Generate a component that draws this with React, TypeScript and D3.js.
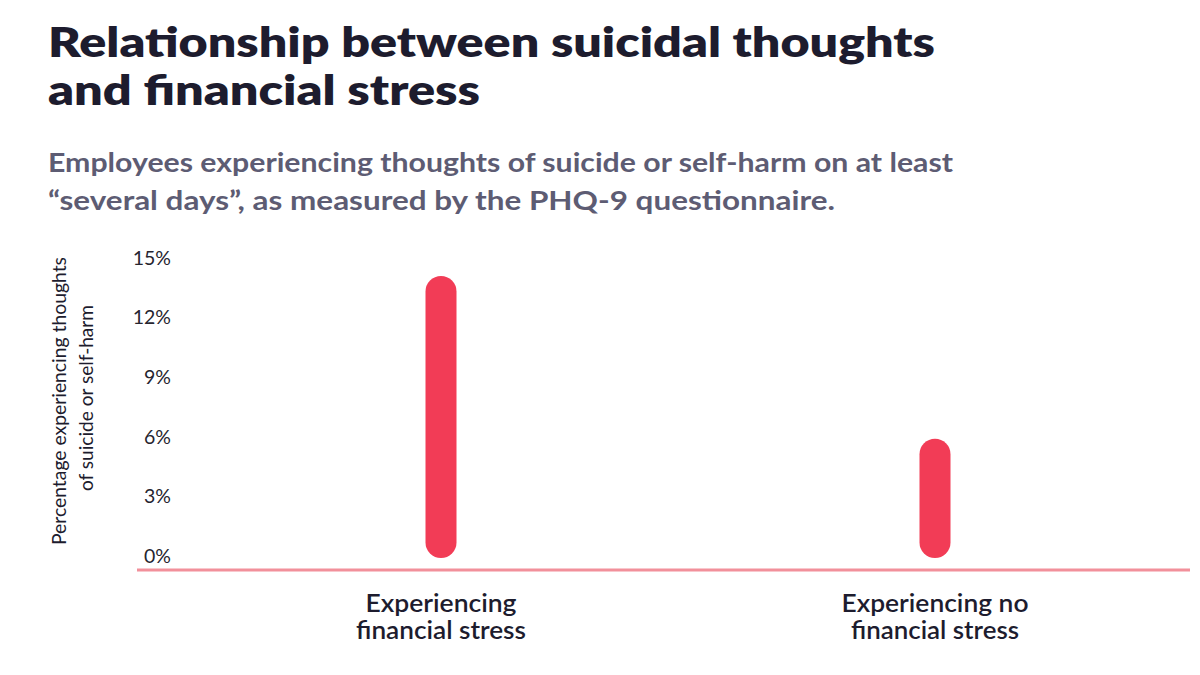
import React, { useEffect, useRef } from "react";
import * as d3 from "d3";

const categories = [["Experiencing", "financial stress"], ["Experiencing no", "financial stress"]];
const values = [14.1, 5.9];
const yTicks = [0, 3, 6, 9, 12, 15];
const titleLines = ["Relationship between suicidal thoughts", "and financial stress"];
const subtitleLines = [
  "Employees experiencing thoughts of suicide or self-harm on at least",
  "\u201Cseveral days\u201D, as measured by the PHQ-9 questionnaire.",
];
const yAxisTitle = ["Percentage experiencing thoughts", "of suicide or self-harm"];

const W = 1200;
const H = 675;
const FONT = "Lato, 'Open Sans', sans-serif";

export default function App() {
  const ref = useRef<SVGSVGElement | null>(null);

  useEffect(() => {
    document.body.style.margin = "0";
    const svg = d3.select(ref.current);
    svg.selectAll("*").remove();

    // Title
    const titleW = [887, 432];
    titleLines.forEach((t, i) => {
      svg.append("text")
        .attr("x", 48).attr("y", 57 + i * 48)
        .attr("font-family", FONT).attr("font-weight", 800).attr("font-size", 42)
        .attr("fill", "#1d1c2e")
        .attr("textLength", titleW[i]).attr("lengthAdjust", "spacingAndGlyphs")
        .text(t);
    });

    const subW = [905, 787];
    subtitleLines.forEach((t, i) => {
      svg.append("text")
        .attr("x", 48).attr("y", 172 + i * 38)
        .attr("font-family", FONT).attr("font-weight", 700).attr("font-size", 27)
        .attr("fill", "#5d5c73")
        .attr("textLength", subW[i]).attr("lengthAdjust", "spacingAndGlyphs")
        .text(t);
    });

    const x = d3.scalePoint<number>().domain(d3.range(categories.length)).range([194, 1182]).padding(0.5);
    const y = d3.scaleLinear().domain([0, 15]).range([556, 258]);

    // y ticks
    svg.append("g").selectAll("text").data(yTicks).join("text")
      .attr("x", 171).attr("y", (d) => y(d)).attr("dy", "0.35em")
      .attr("text-anchor", "end")
      .attr("font-family", FONT).attr("font-size", 19.5).attr("fill", "#26252f")
      .text((d) => `${d}%`);

    // y axis title
    const ytW = [288, 186];
    yAxisTitle.forEach((t, i) => {
      svg.append("text")
        .attr("transform", `translate(${66 + i * 27},${i === 0 ? 401 : 398}) rotate(-90)`)
        .attr("text-anchor", "middle")
        .attr("font-family", FONT).attr("font-size", 18.5).attr("fill", "#1d1c2e")
        .attr("textLength", ytW[i]).attr("lengthAdjust", "spacingAndGlyphs")
        .text(t);
    });

    // baseline
    svg.append("line")
      .attr("x1", 137).attr("x2", 1190)
      .attr("y1", 570).attr("y2", 570)
      .attr("stroke", "#f2909b").attr("stroke-width", 3);

    // bars
    const bw = 31;
    svg.append("g").selectAll("rect").data(values).join("rect")
      .attr("x", (_, i) => (x(i) as number) - bw / 2)
      .attr("width", bw)
      .attr("y", (d) => y(d))
      .attr("height", (d) => y(0) - y(d) + 2)
      .attr("rx", bw / 2).attr("ry", bw / 2)
      .attr("fill", "#f23c56");

    // x labels
    const xlW = [[151, 170], [187, 168]];
    categories.forEach((lines, i) => {
      lines.forEach((l, j) => {
        svg.append("text")
          .attr("x", x(i) as number).attr("y", 612 + j * 27)
          .attr("text-anchor", "middle")
          .attr("font-family", FONT).attr("font-weight", 600).attr("font-size", 24)
          .attr("fill", "#1d1c2e")
          .attr("textLength", xlW[i][j]).attr("lengthAdjust", "spacingAndGlyphs")
          .text(l);
      });
    });
  }, []);

  return (
    <svg ref={ref} width={W} height={H} style={{ display: "block", background: "#fff" }} />
  );
}
